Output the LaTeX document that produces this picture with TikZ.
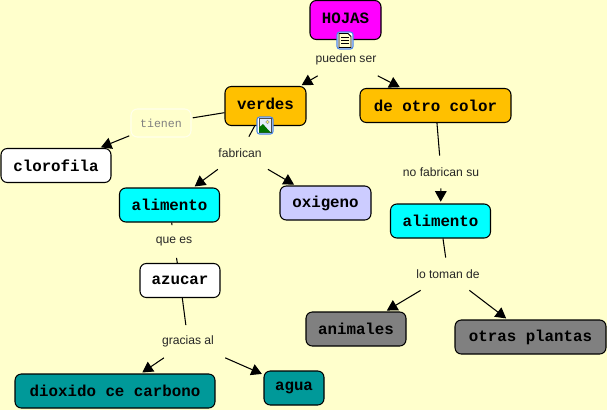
\documentclass[tikz,border=0pt]{standalone}
\usepackage{fontspec}
\setmainfont{Liberation Sans}
\setmonofont{Liberation Mono}
\usepackage{tikz}
\usetikzlibrary{arrows.meta}
\definecolor{fondo}{HTML}{FFFFCC}
\definecolor{fucsia}{HTML}{FF00FF}
\definecolor{turquesa}{HTML}{00FFFF}
\definecolor{naranja}{HTML}{FFC000}
\definecolor{lila}{HTML}{CCCCFF}
\definecolor{gris}{HTML}{808080}
\definecolor{verdeazul}{HTML}{009999}
\definecolor{azulicono}{HTML}{4A86E8}
\tikzset{
    concepto/.style={draw=black, line width=0.6pt, rounded corners=3.6pt, inner sep=0pt, font=\ttfamily\bfseries\fontsize{9}{11}\selectfont},
    enlace/.style={inner sep=0pt, minimum width=1.5cm, minimum height=0.64cm, font=\fontsize{6.9}{8}\selectfont, text=black!85},
    flecha/.style={line width=0.6pt, -{Triangle[length=6pt,width=6.6pt]}, shorten >=1pt},
    linea/.style={line width=0.6pt},
}
\begin{document}
\begin{tikzpicture}[x=0.02cm, y=-0.02cm]
        \useasboundingbox[fill=fondo] (0,0) rectangle (607,410);

        % conceptos
        \node[concepto, fill=fucsia, minimum width=1.42cm, minimum height=0.78cm] (hojas) at (345.5,20) {\raisebox{2pt}{HOJAS}};
        \node[concepto, fill=naranja, minimum width=1.62cm, minimum height=0.78cm] (verdes) at (265.5,106) {\raisebox{2pt}{verdes}};
        \node[concepto, fill=naranja, minimum width=3.02cm, minimum height=0.68cm] (otrocolor) at (435.5,105.5) {de otro color};
        \node[concepto, fill=white, minimum width=2.2cm, minimum height=0.68cm] (clorofila) at (56,165.5) {clorofila};
        \node[concepto, fill=turquesa, minimum width=2cm, minimum height=0.68cm] (alimentoa) at (169.5,205) {alimento};
        \node[concepto, fill=lila, minimum width=1.82cm, minimum height=0.68cm] (oxigeno) at (325.5,203) {oxigeno};
        \node[concepto, fill=turquesa, minimum width=2cm, minimum height=0.68cm] (alimentob) at (440.5,221) {alimento};
        \node[concepto, fill=white, minimum width=1.6cm, minimum height=0.68cm] (azucar) at (180,280.5) {azucar};
        \node[concepto, fill=gris, minimum width=2cm, minimum height=0.68cm] (animales) at (356,329) {animales};
        \node[concepto, fill=gris, minimum width=3.02cm, minimum height=0.68cm] (plantas) at (530.5,337) {otras plantas};
        \node[concepto, fill=verdeazul, minimum width=4cm, minimum height=0.68cm] (dioxido) at (115,391) {dioxido ce carbono};
        \node[concepto, fill=verdeazul, minimum width=1.2cm, minimum height=0.68cm] (agua) at (294,388) {agua};

        % frases de enlace
        \node[enlace] (pueden) at (346,59.5) {pueden ser};
        \node[draw=white!60!fondo, line width=0.6pt, rounded corners=3.6pt, inner sep=0pt, outer sep=1pt, minimum width=1.2cm, minimum height=0.56cm, font=\ttfamily\fontsize{6.6}{8}\selectfont, text=gris] (tienen) at (161,123) {tienen};
        \node[enlace] (fabrican) at (240,153) {fabrican};
        \node[enlace] (nofabrican) at (441,172) {no fabrican su};
        \node[enlace] (quees) at (174,241.5) {que es};
        \node[enlace] (lotoman) at (448,274) {lo toman de};
        \node[enlace] (gracias) at (188,341.5) {gracias al};

        % conectores
        \draw[linea] (hojas) -- (pueden);
        \draw[flecha] (pueden) -- (verdes);
        \draw[flecha] (pueden) -- (otrocolor);
        \draw[linea] (verdes) -- (tienen);
        \draw[flecha] (tienen) -- (clorofila);
        \draw[linea] (verdes) -- (fabrican);
        \draw[flecha] (fabrican) -- (alimentoa);
        \draw[flecha] (fabrican) -- (oxigeno);
        \draw[linea] (alimentoa) -- (quees);
        \draw[linea] (quees) -- (azucar);
        \draw[linea] (azucar) -- (gracias);
        \draw[flecha] (gracias) -- (dioxido);
        \draw[flecha] (gracias) -- (agua);
        \draw[linea] (otrocolor) -- (nofabrican);
        \draw[flecha] (nofabrican) -- (alimentob);
        \draw[linea] (alimentob) -- (lotoman);
        \draw[flecha] (lotoman) -- (animales);
        \draw[flecha] (lotoman) -- (plantas);

        % icono de nota
        \begin{scope}[shift={(345,40.5)}]
            \draw[azulicono, fill=white, line width=0.6pt, rounded corners=1.5pt] (-8,-8.5) rectangle (8,8.5);
            \draw[black, fill=fondo, line width=0.5pt] (-6,-7) -- (3,-7) -- (6,-4) -- (6,7) -- (-6,7) -- cycle;
            \foreach \y in {-3,0,3}
                \draw[black, line width=0.5pt] (-4,\y) -- (4,\y);
        \end{scope}

        % icono de imagen
        \begin{scope}[shift={(265,125.5)}]
            \draw[azulicono, fill=white, line width=0.6pt, rounded corners=1.5pt] (-8,-8.5) rectangle (8,8.5);
            \draw[black!70, fill=azulicono!15!white, line width=0.4pt] (-6,-7) rectangle (6,7);
            \fill[yellow!60!white, draw=black!40, line width=0.3pt] (2.5,-3.5) circle (1.7);
            \fill[green!45!black] (-6,7) -- (-6,2) -- (-2,-1.5) -- (2,3) -- (6,7) -- cycle;
        \end{scope}
    \end{tikzpicture}
\end{document}
